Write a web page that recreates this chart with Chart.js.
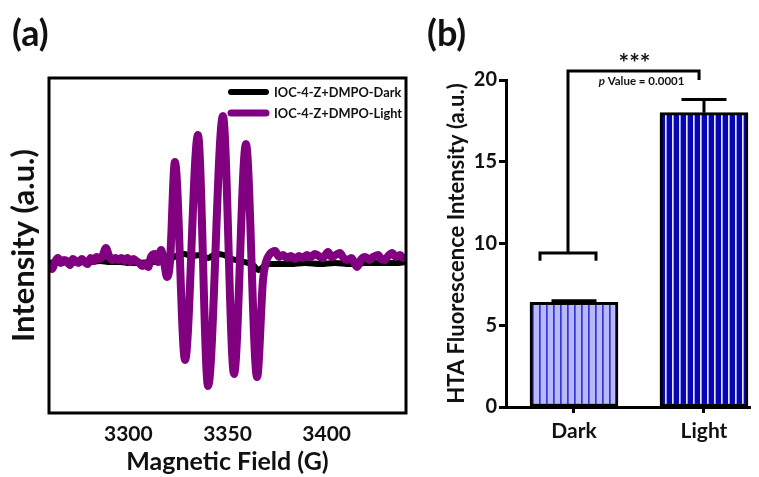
<!DOCTYPE html>
<html><head><meta charset="utf-8">
<script src="https://cdn.jsdelivr.net/npm/chart.js@4.4.1/dist/chart.umd.min.js"></script>
<style>
html,body{margin:0;padding:0;background:#fff;width:759px;height:477px;overflow:hidden;}
#w1{position:absolute;left:0;top:0;width:420px;height:477px;}
#w2{position:absolute;left:420px;top:0;width:339px;height:477px;}
</style></head><body>
<div id="w1"><canvas id="c1" width="420" height="477"></canvas></div>
<div id="w2"><canvas id="c2" width="339" height="477"></canvas></div>
<script>
// ---------- Panel (a): EPR spectra ----------
const seriesNames = ['IOC-4-Z+DMPO-Dark', 'IOC-4-Z+DMPO-Light'];
const fieldTicks = [3300, 3350, 3400];

const darkField = [3260,3265.5,3270.6,3275.6,3280.7,3285.7,3290.8,3295.8,3300.8,3305.9,3310.9,3316.0,3320.0,3324.0,3328.1,3332.1,3336.1,3340.2,3344.2,3348.2,3352.3,3356.3,3360.4,3363.4,3365.4,3367.4,3369.4,3374.0,3381.5,3389.1,3396.7,3404.2,3411.8,3419.4,3426.9,3434.5,3440];
const darkIntensity = [-3,-2,-3,-2,-2,-1,-2,-2,-3,-3,-2,-2,-1,4,6,4,5,2,6,5,1,-1,-3,-6,-10,-8,-4,-4,-4,-3,-4,-3,-4,-3,-3,-3,-2];

const lightField = [3260,3261.5,3263,3264.5,3266,3267.5,3269,3270.6,3272,3273.5,3275,3276.6,3278,3279.5,3281,3282.5,3284,3285.5,3287,3288.7,3290.3,3292,3293.5,3295,3296.5,3298,3299.5,3301,3302.5,3304,3305.5,3307,3308.5,3310,3311.4,3313.5,3315,3316.5,3318,3319.5,3321,3323.5,3328.6,3335.1,3340.2,3347.7,3353.3,3359.3,3364.9,3367.9,3369.4,3371.4,3374,3376,3378,3380,3382,3384,3386,3388,3390,3392,3394,3396,3398,3400.7,3402.5,3404.5,3406.7,3408.5,3410.3,3412.5,3415.3,3417.5,3419.5,3421.5,3423.4,3425.9,3427.5,3429.4,3431,3433,3435,3437,3438.5,3440];
const lightIntensity = [-5,-9,-2,2,-3,0,-1,-5,1,-1,-3,1,-2,-4,2,-1,3,1,4,12,4,0,2,0,2,-1,2,-2,1,-1,-3,-6,-4,-7,3,6,-2,10,-2,-17,-2,98,-100,125,-126,144,-114,116,-117,-20,-2,6,9,3,5,2,4,1,4,2,5,3,6,4,2,8,3,5,7,2,0,2,-7,1,3,0,3,5,1,0,4,7,3,5,2,4];

// ---------- Panel (b): HTA fluorescence ----------
const categories = ['Dark', 'Light'];
const meanValues = [6.4, 18.0];
const errorValues = [0.1, 0.8];
const yTicksB = [0, 5, 10, 15, 20];

const FONT = 'Lato, "Open Sans", "DejaVu Sans", sans-serif';
const TXT = '#111';

function panelLabel(text, x, y) {
  return { id: 'panel' + text, afterDraw(chart) {
    const c = chart.ctx; c.save();
    c.font = 'bold 36px ' + FONT; c.fillStyle = TXT;
    c.textAlign = 'left'; c.textBaseline = 'middle';
    c.fillText(text, x, y); c.restore();
  }};
}

const framePlugin = { id: 'frame', afterDatasetsDraw(chart) {
  const a = chart.chartArea, c = chart.ctx; c.save();
  c.strokeStyle = '#000'; c.lineWidth = 3;
  c.strokeRect(a.left, a.top, a.right - a.left, a.bottom - a.top);
  c.restore();
}};

const legendPlugin = { id: 'inlegend', afterDraw(chart) {
  const c = chart.ctx; c.save();
  const rows = [92, 113], widths = [6, 7];
  chart.data.datasets.forEach((ds, i) => {
    c.strokeStyle = ds.borderColor; c.lineWidth = widths[i]; c.lineCap = 'round';
    c.beginPath(); c.moveTo(231, rows[i]); c.lineTo(266, rows[i]); c.stroke();
    c.fillStyle = TXT; c.font = 'bold 12.8px ' + FONT;
    c.textAlign = 'left'; c.textBaseline = 'middle';
    c.fillText(ds.label, 274, rows[i] + 1);
  });
  c.restore();
}};

new Chart(document.getElementById('c1'), {
  type: 'line',
  data: { datasets: [
    { label: seriesNames[0], data: darkField.map((x, i) => ({x, y: darkIntensity[i]})),
      borderColor: '#000000', borderWidth: 6, pointRadius: 0, fill: false,
      cubicInterpolationMode: 'monotone', order: 1 },
    { label: seriesNames[1], data: lightField.map((x, i) => ({x, y: lightIntensity[i]})),
      borderColor: '#800080', borderWidth: 8, pointRadius: 0, fill: false,
      cubicInterpolationMode: 'monotone', order: 0 }
  ]},
  options: {
    responsive: false, animation: false, events: [],
    layout: { padding: { top: 78, right: 14, bottom: 0, left: 0 } },
    plugins: { legend: { display: false }, tooltip: { enabled: false } },
    scales: {
      x: { type: 'linear', min: 3260, max: 3440,
        afterBuildTicks: s => { s.ticks = fieldTicks.map(v => ({ value: v })); },
        afterFit: s => { s.height = 64; },
        grid: { display: false, drawTicks: false }, border: { display: false },
        ticks: { padding: 9, color: TXT, callback: v => String(v),
          font: { family: FONT, size: 21, weight: 'bold' } },
        title: { display: true, text: 'Magnetic Field (G)', color: TXT,
          font: { family: FONT, size: 25, weight: 'bold' }, padding: { top: 0, bottom: 0 } } },
      y: { type: 'linear', min: -153, max: 182,
        afterFit: s => { s.width = 49; },
        grid: { display: false, drawTicks: false }, border: { display: false },
        ticks: { display: false },
        title: { display: true, text: 'Intensity (a.u.)', color: TXT,
          font: { family: FONT, size: 31, weight: 'bold' }, padding: { top: 5, bottom: 0 } } }
    }
  },
  plugins: [framePlugin, legendPlugin, panelLabel('(a)', 12, 34)]
});

// ---------- Panel (b) ----------
const ctx2 = document.getElementById('c2').getContext('2d');
function stripes(bg, s1, s2, period) {
  const pc = document.createElement('canvas'); pc.width = period; pc.height = 4;
  const p = pc.getContext('2d');
  p.fillStyle = bg; p.fillRect(0, 0, period, 4);
  p.fillStyle = s1; p.fillRect(0, 0, 1, 4);
  p.fillStyle = s2; p.fillRect(1, 0, 1, 4);
  return ctx2.createPattern(pc, 'repeat');
}
const patDark = stripes('#b7baf7', '#3434e0', '#5a5ae6', 7);
const patLight = stripes('#0606b2', '#e4e4ff', '#9c9cec', 7);

const errorPlugin = { id: 'errbars', afterDatasetsDraw(chart) {
  const c = chart.ctx, ys = chart.scales.y, meta = chart.getDatasetMeta(0);
  c.save(); c.strokeStyle = '#000'; c.lineWidth = 3; c.lineCap = 'butt';
  meta.data.forEach((bar, i) => {
    const yb = ys.getPixelForValue(meanValues[i]);
    const yt = ys.getPixelForValue(meanValues[i] + errorValues[i]);
    c.beginPath(); c.moveTo(bar.x, yb); c.lineTo(bar.x, yt);
    c.moveTo(bar.x - 22.5, yt); c.lineTo(bar.x + 22.5, yt); c.stroke();
  });
  c.restore();
}};

const bracketPlugin = { id: 'bracket', afterDraw(chart) {
  const c = chart.ctx, xs = chart.scales.x, ys = chart.scales.y;
  const xl = xs.getPixelForValue(-0.046), xr = xs.getPixelForValue(0.962);
  const yTop = ys.getPixelForValue(20.55), yRight = ys.getPixelForValue(20.0);
  const yCap = ys.getPixelForValue(9.42), yCapEnd = ys.getPixelForValue(8.95);
  c.save(); c.strokeStyle = '#000'; c.lineWidth = 3; c.lineJoin = 'miter'; c.lineCap = 'butt';
  c.beginPath(); c.moveTo(xr, yRight); c.lineTo(xr, yTop); c.lineTo(xl, yTop); c.lineTo(xl, yCap); c.stroke();
  c.beginPath(); c.moveTo(xl - 28, yCapEnd); c.lineTo(xl - 28, yCap); c.lineTo(xl + 28, yCap); c.lineTo(xl + 28, yCapEnd); c.stroke();
  const xm = (xl + xr) / 2;
  c.fillStyle = TXT; c.textBaseline = 'middle';
  c.font = 'bold 25px ' + FONT; c.textAlign = 'center';
  c.fillText('***', xm + 1, ys.getPixelForValue(20.55) - 7);
  const rest = ' Value = 0.0001';
  c.font = 'italic bold 11.5px ' + FONT; const wp = c.measureText('p').width;
  c.font = 'bold 11.5px ' + FONT; const wr = c.measureText(rest).width;
  const x0 = xm + 8 - (wp + wr) / 2, yp = ys.getPixelForValue(19.9);
  c.textAlign = 'left';
  c.font = 'italic bold 11.5px ' + FONT; c.fillText('p', x0, yp);
  c.font = 'bold 11.5px ' + FONT; c.fillText(rest, x0 + wp, yp);
  c.restore();
}};

new Chart(ctx2, {
  type: 'bar',
  data: { datasets: [{
    label: 'HTA',
    data: categories.map((c, i) => ({ x: i, y: meanValues[i] })),
    backgroundColor: [patDark, patLight], borderColor: '#000', borderWidth: 3,
    borderSkipped: false, barThickness: 88
  }]},
  options: {
    responsive: false, animation: false, events: [],
    layout: { padding: { top: 80, right: 9, bottom: 0, left: 0 } },
    plugins: { legend: { display: false }, tooltip: { enabled: false } },
    scales: {
      x: { type: 'linear', min: -0.523, max: 1.354, offset: false,
        afterBuildTicks: s => { s.ticks = categories.map((c, i) => ({ value: i })); },
        afterFit: s => { s.height = 70; },
        ticks: { callback: v => categories[v], padding: 6, color: TXT,
          font: { family: FONT, size: 21, weight: 'bold' } },
        grid: { display: true, offset: false, drawOnChartArea: false, drawTicks: true,
          tickLength: 6, tickWidth: 3, tickColor: '#000' },
        border: { display: true, width: 3, color: '#000' } },
      y: { type: 'linear', min: 0, max: 20,
        afterBuildTicks: s => { s.ticks = yTicksB.map(v => ({ value: v })); },
        afterFit: s => { s.width = 86; },
        ticks: { padding: 2, color: TXT, font: { family: FONT, size: 20, weight: 'bold' } },
        grid: { display: true, drawOnChartArea: false, drawTicks: true,
          tickLength: 7, tickWidth: 3, tickColor: '#000' },
        border: { display: true, width: 3, color: '#000' },
        title: { display: true, text: 'HTA Fluorescence Intensity (a.u.)', color: TXT,
          font: { family: FONT, size: 22, weight: 'bold' }, padding: { top: 24, bottom: 0 } } }
    }
  },
  plugins: [errorPlugin, bracketPlugin, panelLabel('(b)', 7, 34)]
});
</script>
</body></html>
